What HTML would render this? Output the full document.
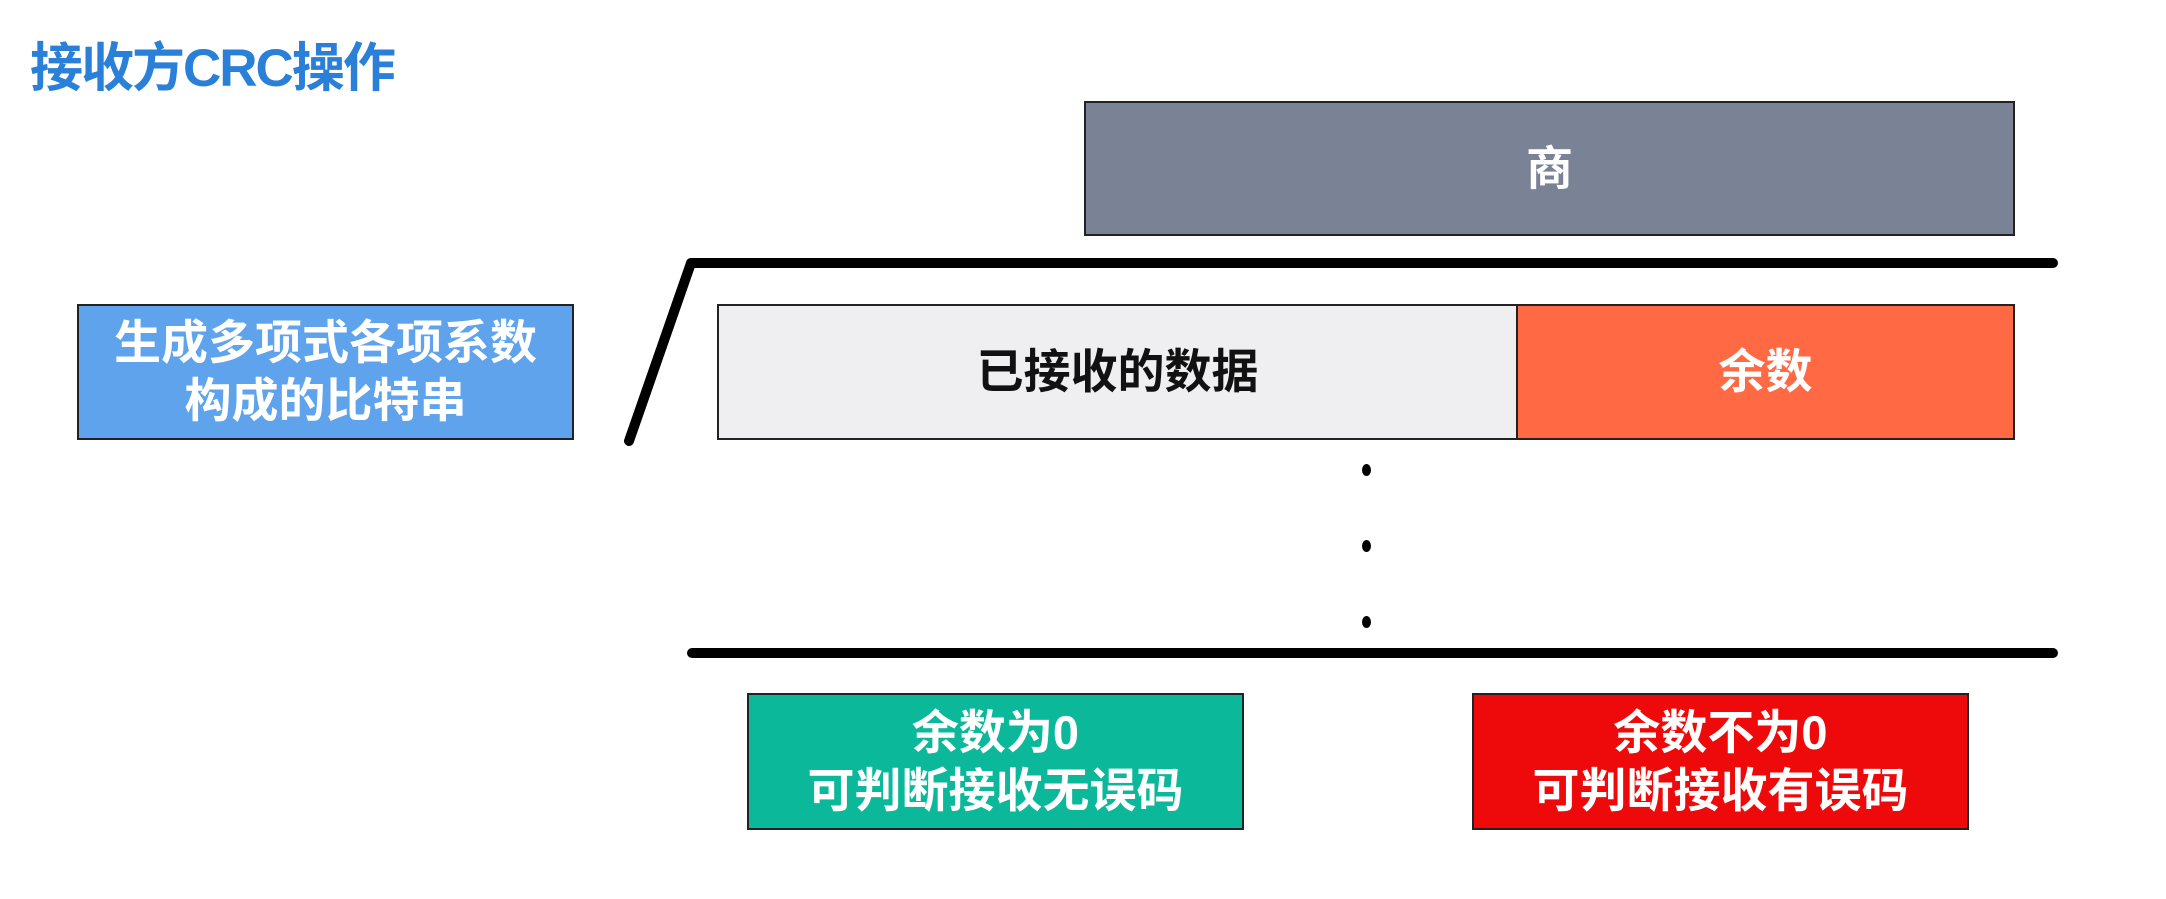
<!DOCTYPE html>
<html><head><meta charset="utf-8"><style>
body{margin:0;width:2166px;height:899px;background:#fff;position:relative;overflow:hidden;font-family:"Liberation Sans","Noto Sans CJK SC",sans-serif;font-weight:bold}
.b{position:absolute;box-sizing:border-box;border:2px solid #222;display:flex;align-items:center;justify-content:center;text-align:center;font-size:47px;line-height:58px;color:#fff}
.d{position:absolute;width:9px;height:12px;border-radius:50%;background:#000}
</style></head><body>
<div style="position:absolute;left:30px;top:26px;font-size:53px;color:#2a7fd8;letter-spacing:-2px">接收方CRC操作</div>
<div class="b" style="left:1084px;top:101px;width:931px;height:135px;background:#7a8296">商</div>
<svg width="2166" height="899" style="position:absolute;left:0;top:0">
<polyline points="629,441 691,263 2053,263" fill="none" stroke="#000" stroke-width="10" stroke-linecap="round" stroke-linejoin="round"/>
<line x1="692" y1="653" x2="2053" y2="653" stroke="#000" stroke-width="10" stroke-linecap="round"/>
</svg>
<div class="b" style="left:77px;top:304px;width:497px;height:136px;background:#5ea3ec">生成多项式各项系数<br>构成的比特串</div>
<div class="b" style="left:717px;top:304px;width:801px;height:136px;background:#efeef1;color:#111">已接收的数据</div>
<div class="b" style="left:1516px;top:304px;width:499px;height:136px;background:#ff6a45">余数</div>
<div class="d" style="left:1362px;top:464px"></div>
<div class="d" style="left:1362px;top:540px"></div>
<div class="d" style="left:1362px;top:616px"></div>
<div class="b" style="left:747px;top:693px;width:497px;height:137px;background:#0bb99a">余数为0<br>可判断接收无误码</div>
<div class="b" style="left:1472px;top:693px;width:497px;height:137px;background:#ee0a0a">余数不为0<br>可判断接收有误码</div>
</body></html>
